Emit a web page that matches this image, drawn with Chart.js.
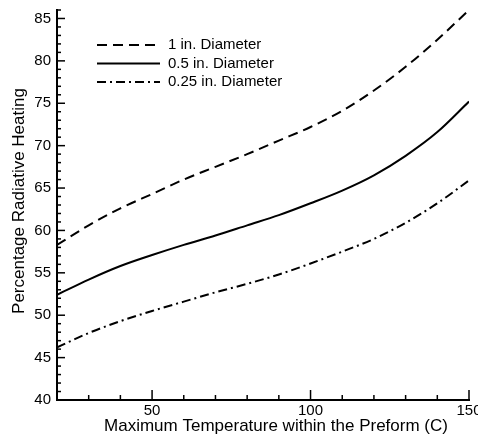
<!DOCTYPE html>
<html>
<head>
<meta charset="utf-8">
<script src="https://cdn.jsdelivr.net/npm/chart.js@4/dist/chart.umd.min.js"></script>
<style>
  html, body { margin: 0; padding: 0; background: #fff; }
  #wrap { width: 478px; height: 438px; }
</style>
</head>
<body>
<div id="wrap"><canvas id="chart" width="478" height="438"></canvas></div>
<script>
// temperatura maksymalna (C)
const temps = [20, 30, 40, 50, 60, 70, 80, 90, 100, 110, 120, 130, 140, 150];
// procent ogrzewania radiacyjnego dla trzech średnic
const dia1in = [58.3, 60.6, 62.6, 64.3, 66.0, 67.5, 69.0, 70.6, 72.2, 74.1, 76.5, 79.3, 82.5, 86.0];
const dia05in = [52.4, 54.2, 55.8, 57.1, 58.3, 59.4, 60.6, 61.8, 63.2, 64.7, 66.5, 68.8, 71.6, 75.2];
const dia025in = [46.2, 47.9, 49.3, 50.5, 51.6, 52.7, 53.7, 54.8, 56.1, 57.5, 59.0, 60.9, 63.2, 65.9];
const seriesNames = ['1 in. Diameter', '0.5 in. Diameter', '0.25 in. Diameter'];
const xMajor = [50, 100, 150];
const xTitle = 'Maximum Temperature within the Preform (C)';
const yTitle = 'Percentage Radiative Heating';

const FONT = '"Liberation Sans", Arial, sans-serif';

function toPoints(ys) {
    return temps.map((t, i) => ({ x: t, y: ys[i] }));
}

const dashes = [[10, 6], [], [9, 4, 2, 4]];

// ząbki osi skierowane do wnętrza wykresu, tytuły osi i legenda w środku
const innerTicks = {
    id: 'innerTicks',
    afterDraw(chart) {
        const ctx = chart.ctx;
        const xs = chart.scales.x, ys = chart.scales.y;
        ctx.save();
        ctx.strokeStyle = '#000';
        ctx.lineWidth = 1.5;
        ys.ticks.forEach(t => {
            const py = ys.getPixelForValue(t.value);
            const len = t.value % 5 === 0 ? 8 : 4;
            ctx.beginPath();
            ctx.moveTo(xs.left, py);
            ctx.lineTo(xs.left + len, py);
            ctx.stroke();
        });
        xs.ticks.forEach(t => {
            const px = xs.getPixelForValue(t.value);
            const len = xMajor.includes(t.value) ? 10 : 5;
            ctx.beginPath();
            ctx.moveTo(px, ys.bottom);
            ctx.lineTo(px, ys.bottom - len);
            ctx.stroke();
        });

        // tytuły osi
        ctx.fillStyle = '#000';
        ctx.font = '17px ' + FONT;
        ctx.textAlign = 'center';
        ctx.textBaseline = 'middle';
        ctx.fillText(xTitle, 276, 426);
        ctx.save();
        ctx.translate(19, 201);
        ctx.rotate(-Math.PI / 2);
        ctx.fillText(yTitle, 0, 0);
        ctx.restore();

        // legenda
        ctx.font = '15px ' + FONT;
        ctx.textAlign = 'left';
        ctx.lineWidth = 2;
        seriesNames.forEach((name, i) => {
            const y = 45 + i * 18.5;
            ctx.setLineDash(dashes[i]);
            ctx.beginPath();
            ctx.moveTo(97, y);
            ctx.lineTo(160, y);
            ctx.stroke();
            ctx.setLineDash([]);
            ctx.fillText(name, 168, y);
        });
        ctx.restore();
    }
};

const datasets = [dia1in, dia05in, dia025in].map((ys, i) => ({
    label: seriesNames[i],
    data: toPoints(ys),
    borderColor: '#000',
    borderWidth: 2,
    borderDash: dashes[i],
    pointRadius: 0,
    fill: false,
    cubicInterpolationMode: 'monotone'
}));

new Chart(document.getElementById('chart').getContext('2d'), {
    type: 'line',
    data: { datasets },
    options: {
        responsive: false,
        animation: false,
        layout: { padding: { top: 10, right: 9, left: 0, bottom: 0 } },
        plugins: { legend: { display: false }, tooltip: { enabled: false } },
        scales: {
            x: {
                type: 'linear',
                min: 20,
                max: 150,
                afterFit(scale) {
                    scale.height = 38;
                    scale.paddingRight = 0;
                    scale.paddingLeft = 0;
                },
                ticks: {
                    stepSize: 10,
                    autoSkip: false,
                    maxRotation: 0,
                    padding: 2,
                    color: '#000',
                    font: { family: FONT, size: 15 },
                    callback: v => xMajor.includes(v) ? String(v) : ''
                },
                grid: { drawOnChartArea: false, drawTicks: false },
                border: { display: true, color: '#000', width: 2 }
            },
            y: {
                min: 40,
                max: 86,
                afterFit(scale) {
                    scale.width = 57;
                    scale.paddingTop = 0;
                    scale.paddingBottom = 0;
                },
                ticks: {
                    stepSize: 1,
                    autoSkip: false,
                    padding: 6,
                    color: '#000',
                    font: { family: FONT, size: 15 },
                    callback: v => v % 5 === 0 ? String(v) : ''
                },
                grid: { drawOnChartArea: false, drawTicks: false },
                border: { display: true, color: '#000', width: 2 }
            }
        }
    },
    plugins: [innerTicks]
});
</script>
</body>
</html>
